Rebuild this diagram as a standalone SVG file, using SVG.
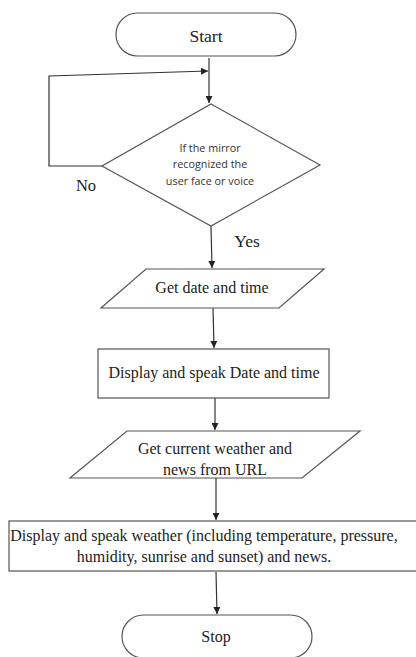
<svg xmlns="http://www.w3.org/2000/svg" width="416" height="657" viewBox="0 0 416 657">
<style>
.shape{fill:#fff;stroke:#555;stroke-width:1.2}
.line{fill:none;stroke:#333;stroke-width:1.2}
.serif{font-family:"Liberation Serif","Times New Roman",serif;fill:#222;text-anchor:middle;font-size:16px}
.sans{font-family:"Open Sans","Liberation Sans",sans-serif;fill:#333;text-anchor:middle;font-size:10.8px}
</style>
<defs>
<marker id="ah" viewBox="0 0 10 10" refX="10" refY="5" markerWidth="7" markerHeight="7" markerUnits="userSpaceOnUse" orient="auto">
<path d="M0,0 L10,5 L0,10 z" fill="#222"/>
</marker>
</defs>
<rect width="416" height="657" fill="#fff"/>
<g id="connectors">
<line class="line" x1="209" y1="58" x2="209" y2="103" marker-end="url(#ah)"/>
<polyline class="line" points="102,166 49,166 49,76 208,71" marker-end="url(#ah)"/>
<line class="line" x1="211" y1="226" x2="212" y2="268" marker-end="url(#ah)"/>
<line class="line" x1="213" y1="308" x2="214" y2="348" marker-end="url(#ah)"/>
<line class="line" x1="215" y1="398" x2="215" y2="430" marker-end="url(#ah)"/>
<line class="line" x1="216" y1="478" x2="216" y2="520" marker-end="url(#ah)"/>
<line class="line" x1="216" y1="572" x2="217" y2="614" marker-end="url(#ah)"/>
</g>
<g id="start">
<rect class="shape" x="116" y="13" width="180" height="43" rx="21.5"/>
<text class="serif" x="206" y="42" style="font-size:17.5px">Start</text>
</g>
<g id="decision">
<polygon class="shape" points="211,104 320,165 211,226 102,166"/>
<text class="sans" x="210" y="152">If the mirror</text>
<text class="sans" x="210" y="168">recognized the</text>
<text class="sans" x="210" y="185">user face or voice</text>
</g>
<g id="label-no"><text class="serif" x="86" y="191" style="font-size:16.5px">No</text></g>
<g id="label-yes"><text class="serif" x="247" y="247" style="font-size:17.5px">Yes</text></g>
<g id="get-date">
<polygon class="shape" points="146,269 324,269 279,308 101,308"/>
<text class="serif" x="212" y="293">Get date and time</text>
</g>
<g id="display-date">
<rect class="shape" x="98" y="349" width="231" height="49"/>
<text class="serif" x="214" y="378">Display and speak Date and time</text>
</g>
<g id="get-weather">
<polygon class="shape" points="127,431 360,431 302,478 70,478"/>
<text class="serif" x="215" y="454">Get current weather and</text>
<text class="serif" x="215" y="475">news from URL</text>
</g>
<g id="display-weather">
<rect class="shape" x="9" y="521" width="420" height="50"/>
<text class="serif" x="204" y="541">Display and speak weather (including temperature, pressure,</text>
<text class="serif" x="204" y="562">humidity, sunrise and sunset) and news.</text>
</g>
<g id="stop">
<rect class="shape" x="122" y="615" width="190" height="43" rx="21.5"/>
<text class="serif" x="216" y="642">Stop</text>
</g>
</svg>
